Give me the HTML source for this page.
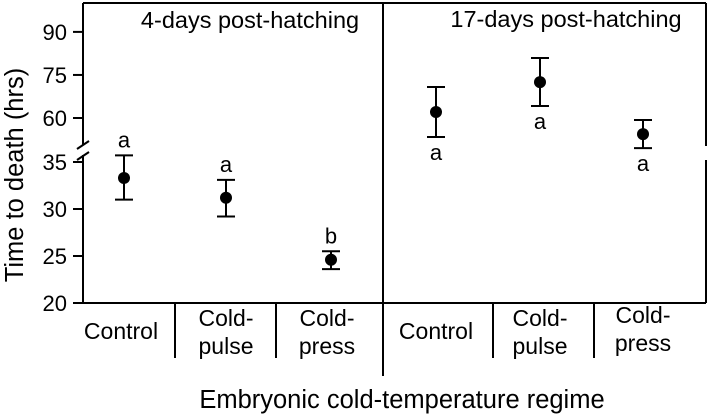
<!DOCTYPE html>
<html><head><meta charset="utf-8"><style>
html,body{margin:0;padding:0;background:#fff;}
svg{display:block;font-family:"Liberation Sans",Arial,sans-serif;}
</style></head><body>
<svg id="chart" width="709" height="415" viewBox="0 0 709 415">
<g id="frame" stroke="#000" stroke-width="2" fill="none">
  <line x1="83" y1="3" x2="706" y2="3"/>
  <line x1="83" y1="3" x2="83" y2="145"/>
  <line x1="83" y1="155" x2="83" y2="303"/>
  <line x1="77" y1="149" x2="89" y2="141"/>
  <line x1="77" y1="160" x2="89" y2="152"/>
  <line x1="706" y1="3" x2="706" y2="146"/>
  <line x1="706" y1="160" x2="706" y2="303"/>
  <line x1="73" y1="303" x2="706" y2="303"/>
  <line x1="383" y1="3" x2="383" y2="376"/>
  <line x1="175" y1="303" x2="175" y2="358"/>
  <line x1="276" y1="303" x2="276" y2="358"/>
  <line x1="493" y1="303" x2="493" y2="358"/>
  <line x1="594" y1="303" x2="594" y2="358"/>
</g>
<g id="yticks"></g>
<g id="marks"></g>
<text x="250" y="28" font-size="23.5" text-anchor="middle">4-days post-hatching</text>
<text x="566" y="27" font-size="23.5" text-anchor="middle">17-days post-hatching</text>
<g font-size="23" text-anchor="middle">
  <text x="121" y="339">Control</text>
  <text x="226" y="326">Cold-</text>
  <text x="226" y="354">pulse</text>
  <text x="327" y="326">Cold-</text>
  <text x="327" y="354">press</text>
  <text x="436" y="339">Control</text>
  <text x="540" y="326">Cold-</text>
  <text x="540" y="354">pulse</text>
  <text x="643" y="323">Cold-</text>
  <text x="643" y="351">press</text>
</g>
<text x="402" y="408" font-size="25.5" text-anchor="middle">Embryonic cold-temperature regime</text>
<text transform="translate(23,175) rotate(-90)" font-size="25.5" text-anchor="middle">Time to death (hrs)</text>
</svg>
<script>
const categories = ["Control","Cold-pulse","Cold-press"];
const means4 = [33.3, 31.2, 24.6];
const upper4 = [35.7, 33.1, 25.5];
const lower4 = [31.0, 29.2, 23.6];
const letters4 = ["a","a","b"];
const means17 = [62.1, 72.5, 54.4];
const upper17 = [70.8, 80.9, 59.3];
const lower17 = [53.4, 64.2, 49.5];
const letters17 = ["a","a","a"];
const lowTicks = [20,25,30,35];
const highTicks = [60,75,90];

const NS = "http://www.w3.org/2000/svg";
function y(v){ return v <= 40 ? 303 - (v-20)*9.4 : 118 - (v-60)*2.87; }
const xLeft = [124, 226, 331];
const xRight = [436, 540, 643];
function mk(tag, attrs, parent){ const e=document.createElementNS(NS,tag); for(const k in attrs) e.setAttribute(k, attrs[k]); parent.appendChild(e); return e; }

const yt = document.getElementById('yticks');
lowTicks.concat(highTicks).forEach(v=>{
  const l = mk('line',{x1:73,x2:83,y1:y(v),y2:y(v),stroke:'#000','stroke-width':2},yt);
  
  
  const t = mk('text',{x:67,y:y(v)+8,'font-size':22,'text-anchor':'end'},yt);
  t.textContent = v;
  
  
});

const mg = document.getElementById('marks');
function draw(xs, m, up, lo, lets, above){
  xs.forEach((x,i)=>{
    const g = mk('g',{stroke:'#000','stroke-width':2},mg);
    
    
    mk('line',{x1:x,x2:x,y1:y(up[i]),y2:y(lo[i])},g);
    mk('line',{x1:x-9,x2:x+9,y1:y(up[i]),y2:y(up[i])},g);
    mk('line',{x1:x-9,x2:x+9,y1:y(lo[i]),y2:y(lo[i])},g);
    const c = mk('circle',{cx:x,cy:y(m[i]),r:6,fill:'#000'},mg);
    
    
    const ty = above ? y(up[i]) - 8 : y(lo[i]) + 23;
    const t = mk('text',{x:x,y:ty,'font-size':22,'text-anchor':'middle'},mg);
    t.textContent = lets[i];
    
    
  });
}
draw(xLeft, means4, upper4, lower4, letters4, true);
draw(xRight, means17, upper17, lower17, letters17, false);
</script>
</body></html>
